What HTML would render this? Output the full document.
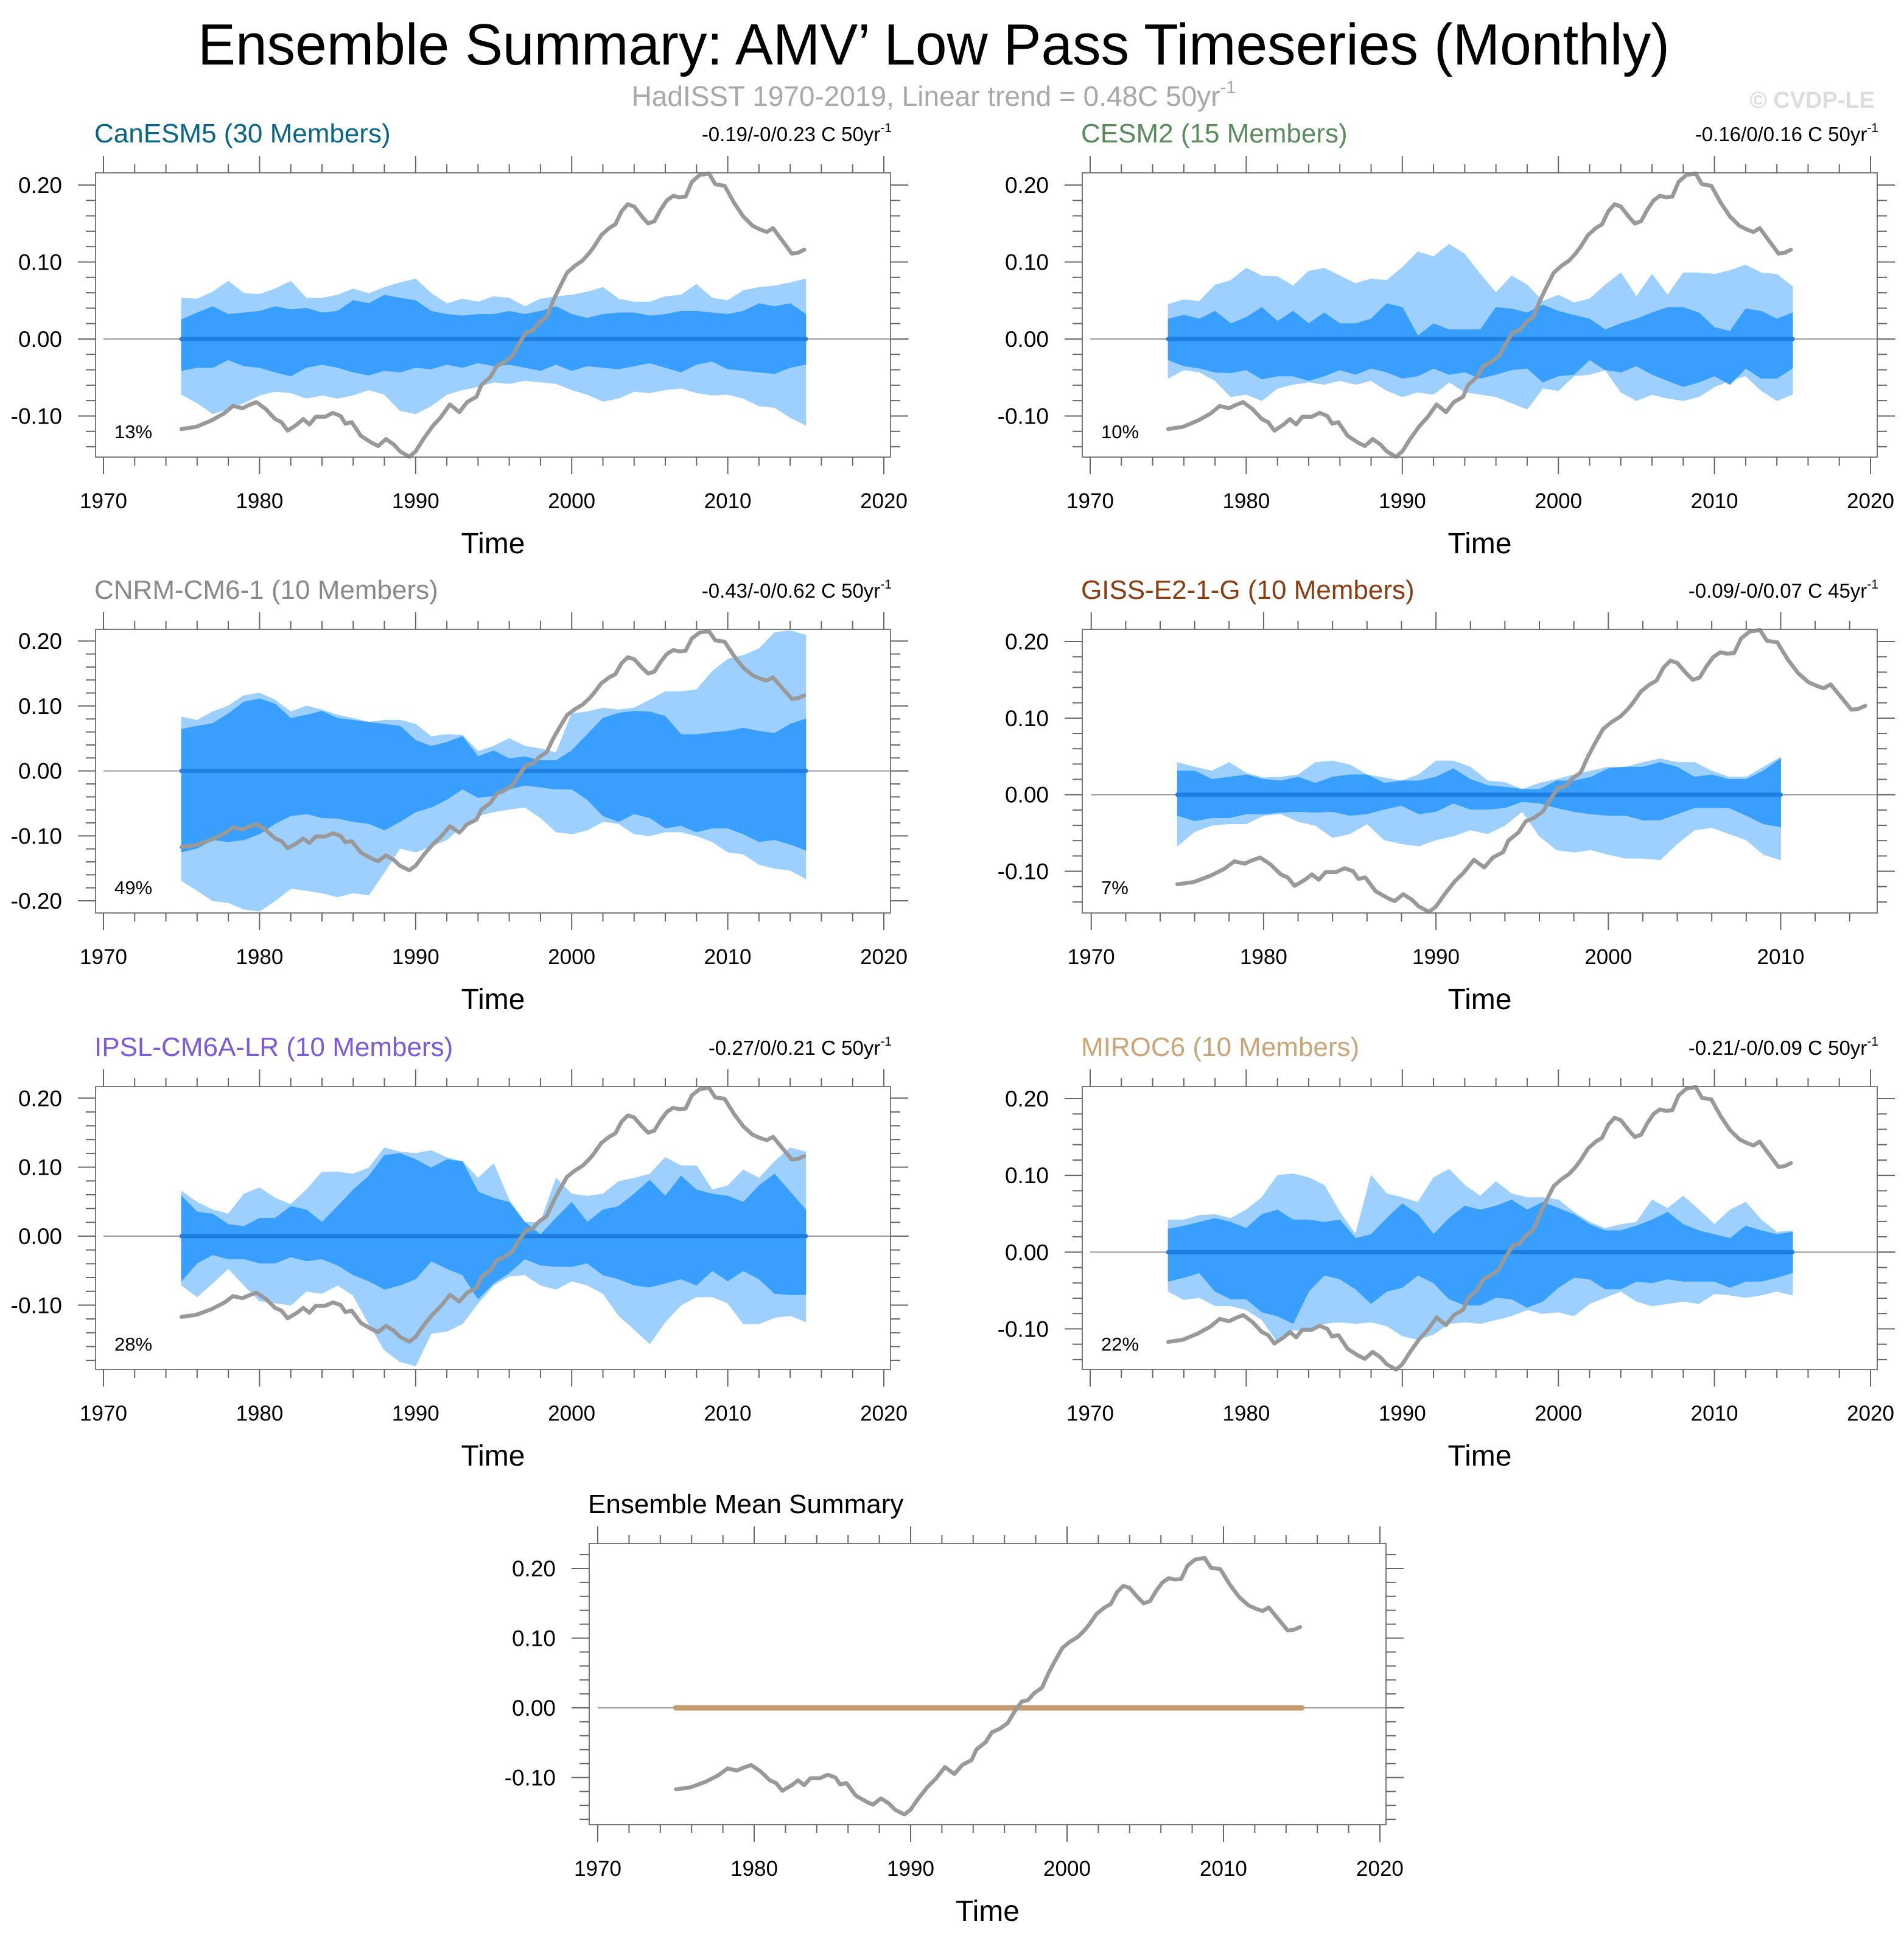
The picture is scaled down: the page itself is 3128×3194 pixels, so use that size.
<!DOCTYPE html>
<html>
<head>
<meta charset="utf-8">
<style>
html,body{margin:0;padding:0;background:#fff;}
svg{display:block;font-family:"Liberation Sans",Arial,sans-serif;}
</style>
</head>
<body>
<svg id="chart" width="3128" height="3194" viewBox="0 0 3128 3194" xmlns="http://www.w3.org/2000/svg">
<rect x="0" y="0" width="3128" height="3194" fill="#fff"/>
<text x="1534" y="106" font-size="96" text-anchor="middle" fill="#000" textLength="2418" lengthAdjust="spacingAndGlyphs">Ensemble Summary: AMV’ Low Pass Timeseries (Monthly)</text>
<text x="1534" y="174" font-size="46" text-anchor="middle" fill="#a8a8a8">HadISST 1970-2019, Linear trend = 0.48C 50yr<tspan font-size="29" dy="-21">-1</tspan></text>
<text x="3080" y="177" font-size="38" font-weight="bold" text-anchor="end" fill="#dcdcdc">© CVDP-LE</text>
</svg>
<script>
// ---- Observed (HadISST) AMV low-pass series, shared by all panels ----
const obsYears=[1975.0,1975.95,1976.9,1977.7,1978.3,1978.9,1979.3,1979.8,1980.4,1981.0,
1981.4,1981.8,1982.4,1982.8,1983.2,1983.6,1984.2,1984.7,1985.2,1985.5,
1985.9,1986.5,1987.2,1987.6,1988.1,1988.6,1989.0,1989.6,1990.0,1990.5,
1991.1,1991.6,1992.2,1992.8,1993.3,1993.9,1994.2,1994.8,1995.2,1995.7,
1996.2,1996.6,1997.1,1997.5,1997.9,1998.4,1998.8,1999.2,1999.7,2000.2,
2000.7,2001.1,2001.4,2001.9,2002.4,2002.8,2003.2,2003.6,2004.0,2004.5,
2004.9,2005.3,2005.7,2006.1,2006.5,2006.9,2007.3,2007.7,2008.2,2008.8,
2009.2,2009.8,2010.4,2011.0,2011.6,2012.1,2012.5,2012.9,2013.3,2013.7,
2014.1,2014.5,2014.9];
const obsValues=[-0.117,-0.114,-0.106,-0.097,-0.087,-0.090,-0.086,-0.082,-0.091,-0.104,
-0.108,-0.119,-0.111,-0.104,-0.111,-0.101,-0.101,-0.096,-0.100,-0.110,
-0.108,-0.126,-0.135,-0.139,-0.130,-0.137,-0.146,-0.153,-0.146,-0.130,
-0.113,-0.102,-0.085,-0.095,-0.082,-0.075,-0.060,-0.049,-0.035,-0.030,
-0.022,-0.007,0.009,0.011,0.021,0.029,0.049,0.066,0.086,0.095,
0.102,0.111,0.119,0.135,0.144,0.149,0.166,0.175,0.172,0.159,
0.150,0.153,0.168,0.180,0.186,0.184,0.185,0.204,0.213,0.215,
0.201,0.199,0.177,0.159,0.147,0.142,0.139,0.144,0.133,0.122,
0.111,0.112,0.116];
const yTickValues=[-0.20,-0.10,0.00,0.10,0.20];
const xTickYears=[1970,1980,1990,2000,2010,2020];

// ---- Ensemble spread bands (units: 1e-3 C), yearly from 1975 ----
const canOuterUp=[53,52,61,75,59,58,65,75,53,53,57,65,59,67,73,78,59,46,52,48,55,53,42,52,55,57,61,67,52,48,48,55,57,71,53,50,63,67,69,73,78];
const canInnerUp=[25,34,42,32,34,36,42,38,40,34,36,50,46,57,53,50,36,32,30,32,32,36,32,36,42,32,27,32,34,34,30,32,36,36,34,32,36,46,42,46,32];
const canInnerLo=[-41,-37,-37,-27,-35,-37,-43,-48,-37,-33,-37,-43,-47,-41,-43,-37,-39,-33,-37,-31,-35,-33,-37,-41,-33,-41,-35,-37,-39,-35,-31,-37,-43,-33,-29,-39,-41,-43,-45,-37,-33];
const canOuterLo=[-72,-83,-97,-91,-83,-73,-68,-70,-77,-73,-77,-73,-66,-72,-93,-97,-87,-72,-66,-62,-56,-58,-54,-56,-58,-66,-72,-81,-77,-68,-70,-66,-64,-70,-73,-72,-77,-87,-89,-102,-112];

const cesOuterUp=[45,51,49,70,76,92,82,81,69,88,92,82,72,78,76,93,113,107,123,110,84,60,82,70,49,57,47,52,70,86,55,84,57,86,86,84,89,96,86,84,68];
const cesInnerUp=[26,31,26,36,20,28,41,23,36,20,34,20,20,26,46,41,4,20,12,12,12,41,39,34,44,36,31,26,12,20,26,34,41,41,34,15,10,39,36,26,34];
const cesInnerLo=[-27,-35,-38,-43,-44,-40,-52,-48,-48,-54,-48,-40,-46,-38,-43,-51,-48,-38,-46,-43,-51,-46,-40,-38,-56,-48,-46,-27,-40,-43,-35,-46,-54,-62,-56,-48,-59,-38,-51,-51,-38];
const cesOuterLo=[-51,-40,-43,-54,-75,-72,-80,-64,-59,-56,-59,-54,-59,-54,-67,-75,-69,-72,-56,-69,-72,-75,-83,-91,-64,-67,-48,-46,-40,-69,-80,-72,-77,-80,-75,-62,-54,-48,-67,-80,-72];

const cnrmOuterUp=[83,78,91,100,116,120,109,91,100,94,86,81,75,78,78,72,53,56,55,30,38,50,38,34,28,88,91,97,94,97,109,122,122,125,153,172,178,188,213,216,209];
const cnrmInnerUp=[64,69,73,88,106,111,103,81,86,92,81,78,75,72,69,47,38,44,53,22,31,19,22,16,16,31,56,81,89,92,91,84,56,56,59,61,66,61,58,72,80];
const cnrmInnerLo=[-125,-119,-106,-109,-106,-97,-81,-69,-66,-72,-73,-78,-81,-91,-78,-63,-56,-44,-28,-41,-38,-28,-22,-25,-28,-28,-44,-69,-78,-66,-72,-88,-84,-94,-88,-88,-97,-109,-106,-113,-122];
const cnrmOuterLo=[-169,-184,-200,-203,-213,-216,-200,-181,-184,-188,-194,-188,-191,-156,-119,-125,-116,-106,-84,-69,-63,-59,-56,-72,-94,-97,-91,-78,-81,-97,-100,-94,-94,-100,-109,-125,-128,-144,-150,-153,-166];

const gissOuterUp=[42,36,31,42,28,22,23,26,42,44,39,26,22,18,26,44,44,36,18,16,7,15,20,26,31,36,36,42,47,42,42,31,23,23,36,49];
const gissInnerUp=[31,31,20,23,26,20,18,23,15,23,26,26,15,18,18,23,34,20,12,10,7,7,18,18,23,34,36,36,42,36,23,26,20,20,31,47];
const gissInnerLo=[-27,-34,-30,-30,-25,-25,-23,-22,-23,-22,-27,-25,-19,-14,-25,-22,-11,-19,-19,-17,-9,-11,-17,-22,-25,-27,-27,-33,-33,-25,-17,-17,-17,-27,-38,-42];
const gissOuterLo=[-67,-48,-40,-38,-38,-27,-25,-35,-40,-56,-51,-38,-59,-64,-67,-59,-54,-46,-51,-40,-22,-54,-72,-75,-72,-78,-83,-83,-85,-64,-46,-43,-51,-59,-78,-85];

const ipslOuterUp=[65,49,38,32,61,70,55,46,67,93,93,90,99,128,122,120,124,114,108,84,105,52,20,20,84,61,58,61,79,84,90,114,102,102,67,73,96,84,108,128,122];
const ipslInnerUp=[58,35,32,17,14,26,26,43,38,20,43,67,87,117,120,111,99,111,108,64,55,49,20,2,26,49,20,38,43,61,81,58,87,67,61,58,49,73,90,64,38];
const ipslInnerLo=[-65,-39,-27,-33,-33,-39,-39,-30,-36,-33,-42,-56,-65,-77,-71,-62,-36,-47,-56,-91,-68,-53,-33,-42,-44,-44,-39,-56,-62,-71,-74,-68,-62,-71,-50,-65,-50,-62,-83,-85,-85];
const ipslOuterLo=[-71,-88,-68,-47,-71,-94,-97,-100,-80,-83,-71,-86,-127,-165,-182,-188,-141,-138,-127,-97,-71,-58,-56,-71,-77,-65,-71,-83,-115,-135,-156,-124,-100,-88,-88,-97,-127,-127,-118,-115,-124];

const mirocOuterUp=[42,42,48,49,44,55,71,100,102,97,87,52,23,100,76,71,65,97,108,87,73,92,76,71,71,68,52,39,31,36,39,68,57,73,55,36,55,65,42,26,28];
const mirocInnerUp=[30,34,39,44,39,31,49,55,42,42,39,42,18,23,44,63,49,23,44,60,55,60,68,55,65,57,49,36,28,28,34,42,52,36,28,23,18,34,28,23,26];
const mirocInnerLo=[-38,-33,-27,-51,-61,-61,-78,-83,-93,-51,-30,-35,-48,-67,-51,-46,-30,-40,-61,-69,-69,-59,-61,-72,-64,-46,-33,-35,-48,-48,-38,-40,-35,-38,-38,-38,-46,-38,-38,-33,-27];
const mirocOuterLo=[-51,-62,-59,-70,-70,-75,-88,-117,-101,-104,-93,-91,-93,-91,-96,-109,-114,-107,-93,-91,-93,-88,-83,-75,-80,-78,-83,-67,-59,-51,-64,-70,-67,-64,-67,-54,-56,-59,-56,-51,-56];

const ensMeanValue=[0.0,0.0];

const NS='http://www.w3.org/2000/svg';
const svg=document.getElementById('chart');
function el(tag,attrs,parent){
  const e=document.createElementNS(NS,tag);
  for(const k in attrs) e.setAttribute(k,attrs[k]);
  (parent||svg).appendChild(e);
  return e;
}

function drawPanel(p){
  const g=el('g',{});
  
  
  const xs=yr=>p.bx0+(yr-p.yr0)/(p.yr1-p.yr0)*(p.bx1-p.bx0);
  const ys=v=>p.by0+(p.vTop-v)/(p.vTop-p.vBot)*(p.by1-p.by0);

  function band(up,lo,color,nm){
    if(!up) return;
    const pts=[];
    for(let i=0;i<up.length;i++) pts.push(xs(p.bandStart+i).toFixed(1)+','+ys(up[i]/1000).toFixed(1));
    for(let i=lo.length-1;i>=0;i--) pts.push(xs(p.bandStart+i).toFixed(1)+','+ys(lo[i]/1000).toFixed(1));
    const poly=el('polygon',{points:pts.join(' '),fill:color,stroke:color,'stroke-width':1},g);
    
    
  }
  band(p.oU,p.oL,'#9ed0ff','outer-spread-band');
  band(p.iU,p.iL,'#389ffe','inner-spread-band');

  const zl=el('line',{x1:xs(1970),x2:p.bx1+30,y1:ys(0),y2:ys(0),stroke:'#9a9a9a','stroke-width':2},g);
  
  

  const ml=el('line',{x1:xs(p.bandStart),x2:xs(p.bandEnd),y1:ys(ensMeanValue[0]),y2:ys(ensMeanValue[1]),stroke:p.meanColor,'stroke-width':p.meanWidth,'stroke-linecap':'round'},g);
  
  

  const op=obsYears.map((y,i)=>xs(y).toFixed(1)+','+ys(obsValues[i]).toFixed(1)).join(' ');
  const ol=el('polyline',{points:op,fill:'none',stroke:'#999','stroke-width':6.5,'stroke-linejoin':'round','stroke-linecap':'round'},g);
  
  

  const box=el('rect',{x:p.bx0,y:p.by0,width:p.bx1-p.bx0,height:p.by1-p.by0,fill:'none',stroke:'#7a7a7a','stroke-width':2},g);
  
  

  for(let yr=1970;yr<=p.yr1;yr+=2){
    const major=(yr%10===0);
    const L=major?28:14;
    const x=xs(yr);
    el('line',{x1:x,x2:x,y1:p.by0-L,y2:p.by0,stroke:'#666','stroke-width':2},g);
    el('line',{x1:x,x2:x,y1:p.by1,y2:p.by1+L,stroke:'#666','stroke-width':2},g);
  }
  xTickYears.forEach(yr=>{
    if(yr>p.yr1) return;
    const t=el('text',{x:xs(yr),y:p.by1+84,'font-size':35,'text-anchor':'middle',fill:'#000'},g);
    t.textContent=String(yr);
    
    
  });
  for(let k=-30;k<=30;k++){
    const v=k*0.02;
    if(v>p.vTop+1e-6||v<p.vBot-1e-6) continue;
    const major=(Math.abs(k)%5===0);
    const L=major?29:16;
    const y=ys(v);
    el('line',{x1:p.bx0-L,x2:p.bx0,y1:y,y2:y,stroke:'#666','stroke-width':2},g);
    el('line',{x1:p.bx1,x2:p.bx1+L,y1:y,y2:y,stroke:'#666','stroke-width':2},g);
  }
  yTickValues.forEach(v=>{
    if(v>p.vTop||v<p.vBot) return;
    const t=el('text',{x:p.bx0-55,y:ys(v)+13,'font-size':37,'text-anchor':'end',fill:'#000'},g);
    t.textContent=v.toFixed(2);
    
    
  });
  const tt=el('text',{x:(p.bx0+p.bx1)/2,y:p.by1+158,'font-size':48,'text-anchor':'middle',fill:'#000'},g);
  tt.textContent='Time';
  
  
  const ti=el('text',{x:p.bx0-2,y:p.by0-50,'font-size':44,fill:p.titleColor},g);
  ti.textContent=p.title;
  
  
  if(p.trend){
    const tr=el('text',{x:p.bx1+2,y:p.by0-52,'font-size':33,'text-anchor':'end',fill:'#000'},g);
    
    
    const a=el('tspan',{},tr); a.textContent=p.trend;
    const b=el('tspan',{'font-size':21,dy:-15},tr); b.textContent='-1';
  }
  if(p.pct){
    const pc=el('text',{x:p.bx0+31,y:p.by1-31,'font-size':31,fill:'#000'},g);
    pc.textContent=p.pct;
    
    
  }
}

const L0=157,L1=1463,R0=1778,R1=3084;
const stdYr0=1969.493,stdYr1=2020.429;
drawPanel({name:'panel-canesm5',bx0:L0,bx1:L1,by0:284,by1:751,yr0:stdYr0,yr1:stdYr1,vTop:0.2158,vBot:-0.1534,
  oU:canOuterUp,iU:canInnerUp,iL:canInnerLo,oL:canOuterLo,bandStart:1975,bandEnd:2015,meanColor:'#1f7ee0',meanWidth:7,
  title:'CanESM5 (30 Members)',titleColor:'#0b6586',trend:'-0.19/-0/0.23 C 50yr',pct:'13%'});
drawPanel({name:'panel-cesm2',bx0:R0,bx1:R1,by0:284,by1:751,yr0:stdYr0,yr1:stdYr1,vTop:0.2158,vBot:-0.1534,
  oU:cesOuterUp,iU:cesInnerUp,iL:cesInnerLo,oL:cesOuterLo,bandStart:1975,bandEnd:2015,meanColor:'#1f7ee0',meanWidth:7,
  title:'CESM2 (15 Members)',titleColor:'#5b8a5f',trend:'-0.16/0/0.16 C 50yr',pct:'10%'});
drawPanel({name:'panel-cnrm-cm6-1',bx0:L0,bx1:L1,by0:1034,by1:1500,yr0:stdYr0,yr1:stdYr1,vTop:0.218,vBot:-0.2187,
  oU:cnrmOuterUp,iU:cnrmInnerUp,iL:cnrmInnerLo,oL:cnrmOuterLo,bandStart:1975,bandEnd:2015,meanColor:'#1f7ee0',meanWidth:7,
  title:'CNRM-CM6-1 (10 Members)',titleColor:'#8a8a8a',trend:'-0.43/-0/0.62 C 50yr',pct:'49%'});
drawPanel({name:'panel-giss-e2-1-g',bx0:R0,bx1:R1,by0:1034,by1:1500,yr0:1969.48,yr1:2015.6,vTop:0.2159,vBot:-0.1544,
  oU:gissOuterUp,iU:gissInnerUp,iL:gissInnerLo,oL:gissOuterLo,bandStart:1975,bandEnd:2010,meanColor:'#1f7ee0',meanWidth:7,
  title:'GISS-E2-1-G (10 Members)',titleColor:'#8a3d12',trend:'-0.09/-0/0.07 C 45yr',pct:'7%'});
drawPanel({name:'panel-ipsl-cm6a-lr',bx0:L0,bx1:L1,by0:1785,by1:2250,yr0:stdYr0,yr1:stdYr1,vTop:0.217,vBot:-0.1932,
  oU:ipslOuterUp,iU:ipslInnerUp,iL:ipslInnerLo,oL:ipslOuterLo,bandStart:1975,bandEnd:2015,meanColor:'#1f7ee0',meanWidth:7,
  title:'IPSL-CM6A-LR (10 Members)',titleColor:'#7b5bd6',trend:'-0.27/0/0.21 C 50yr',pct:'28%'});
drawPanel({name:'panel-miroc6',bx0:R0,bx1:R1,by0:1785,by1:2250,yr0:stdYr0,yr1:stdYr1,vTop:0.2159,vBot:-0.1528,
  oU:mirocOuterUp,iU:mirocInnerUp,iL:mirocInnerLo,oL:mirocOuterLo,bandStart:1975,bandEnd:2015,meanColor:'#1f7ee0',meanWidth:7,
  title:'MIROC6 (10 Members)',titleColor:'#c9a57a',trend:'-0.21/-0/0.09 C 50yr',pct:'22%'});
drawPanel({name:'panel-ensemble-mean-summary',bx0:968,bx1:2277,by0:2536,by1:2998,yr0:1969.455,yr1:2020.39,vTop:0.2358,vBot:-0.1677,
  bandStart:1975,bandEnd:2015,meanColor:'#c49b6e',meanWidth:9,
  title:'Ensemble Mean Summary',titleColor:'#000'});
</script>
</body>
</html>
